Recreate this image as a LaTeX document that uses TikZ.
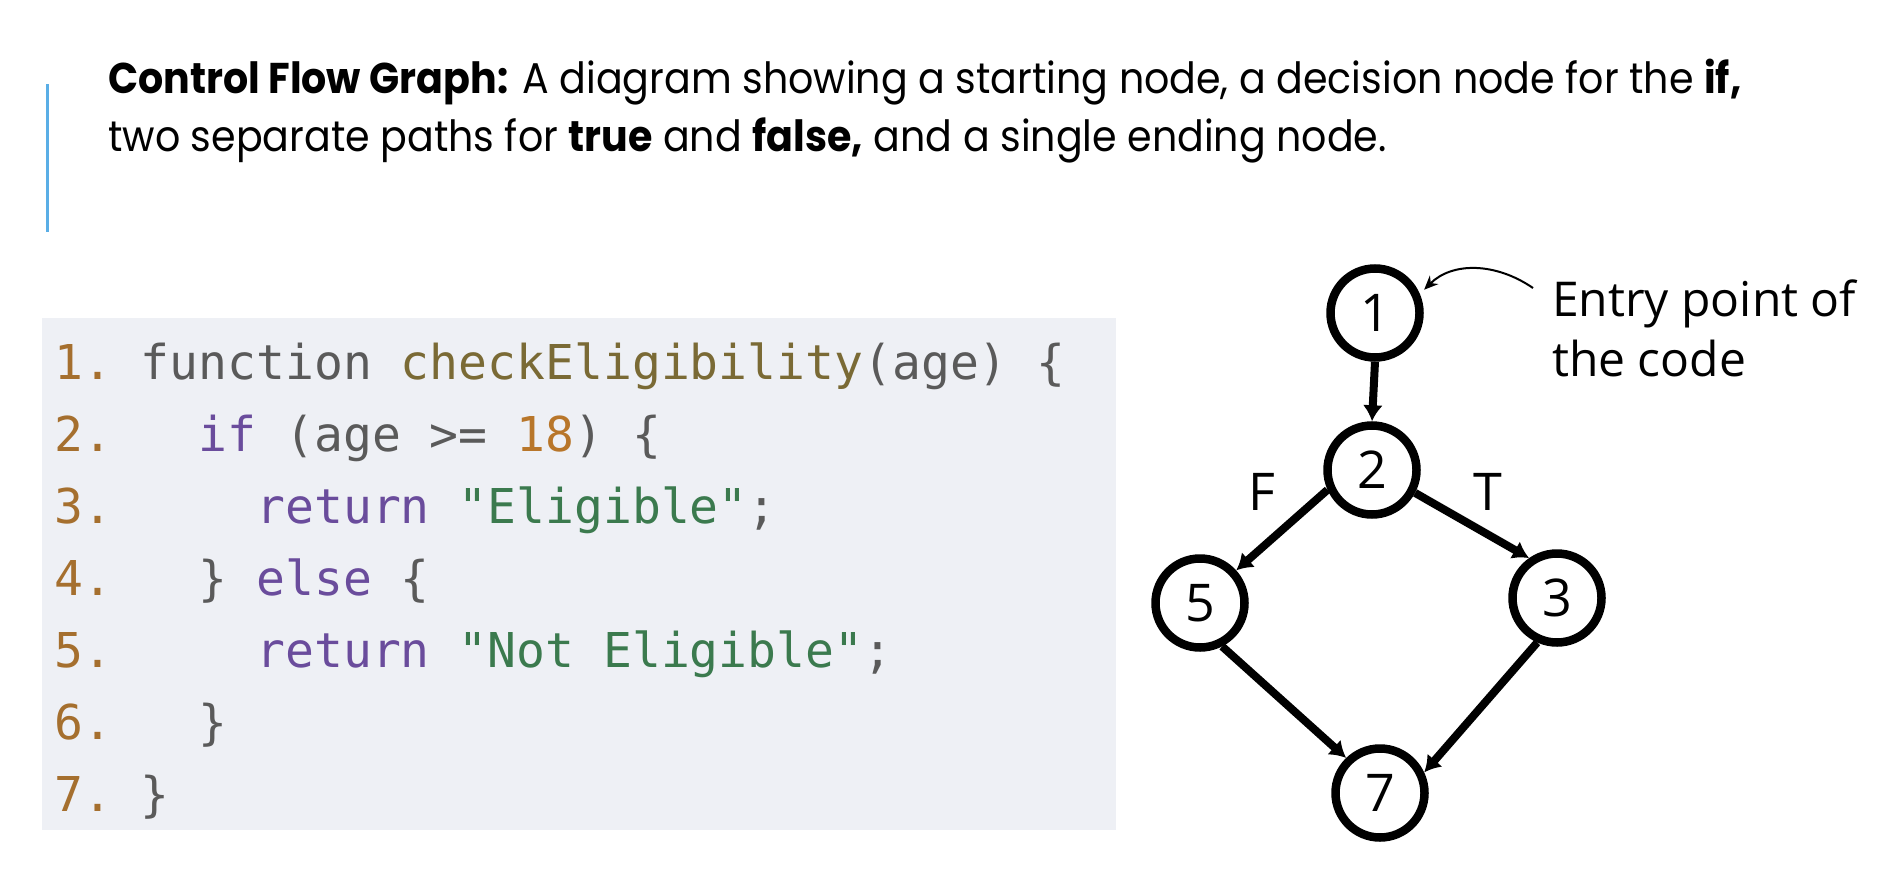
\documentclass[tikz,border=0pt]{standalone}
\usepackage{fontspec}
\setmainfont{Poppins}[FakeStretch=0.92]
\setmonofont{DejaVu Sans Mono}
\newfontfamily\gfont{Open Sans}
\usetikzlibrary{arrows.meta}
\definecolor{barblue}{HTML}{5AAEE6}
\definecolor{codebg}{HTML}{EEF0F5}
\definecolor{lnum}{HTML}{A56F2E}
\definecolor{plain}{HTML}{5A5A5A}
\definecolor{fn}{HTML}{7A6A35}
\definecolor{kw}{HTML}{6A4C9C}
\definecolor{numc}{HTML}{B8762A}
\definecolor{strc}{HTML}{3B7A4E}
\tikzset{
  header/.style={anchor=base west, inner sep=0pt, font=\fontsize{43}{50}\selectfont, text=black},
  codeline/.style={anchor=base west, inner sep=0pt, font=\ttfamily\fontsize{48}{56}\selectfont, text=plain},
  cfgnode/.style={circle, draw=black, line width=8.5pt, minimum size=89pt, inner sep=0pt, font=\gfont\fontsize{52}{56}\selectfont},
  edge/.style={line width=8pt, -{Latex[length=16pt,width=20pt]}},
  branchlabel/.style={inner sep=0pt, font=\gfont\fontsize{52}{56}\selectfont},
  note/.style={anchor=base west, inner sep=0pt, font=\gfont\fontsize{48}{55}\selectfont},
  pointer/.style={line width=2pt, -{Stealth[length=14pt,width=12pt]}}
}
\begin{document}
\begin{tikzpicture}[x=1pt,y=-1pt]
\useasboundingbox[fill=white] (0,0) rectangle (1884,888);
% header
\fill[barblue] (46,84) rectangle (49,232);
\node[header] (h1) at (108,94) {\textbf{Control Flow Graph:} A diagram showing a starting node, a decision node for the \textbf{if,}};
\node[header] (h2) at (108,152) {two separate paths for \textbf{true} and \textbf{false,} and a single ending node.};
% code block
\fill[codebg] (42,318) rectangle (1116,830);
\node[codeline] (c1) at (54,379) {\textcolor{lnum}{1.} function \textcolor{fn}{checkEligibility}(age) \{};
\node[codeline] (c2) at (54,451) {\textcolor{lnum}{2.}\ \ \ \textcolor{kw}{if} (age >= \textcolor{numc}{18}) \{};
\node[codeline] (c3) at (54,523) {\textcolor{lnum}{3.}\ \ \ \ \ \textcolor{kw}{return} \textcolor{strc}{"Eligible"};};
\node[codeline] (c4) at (54,595) {\textcolor{lnum}{4.}\ \ \ \} \textcolor{kw}{else} \{};
\node[codeline] (c5) at (54,667) {\textcolor{lnum}{5.}\ \ \ \ \ \textcolor{kw}{return} \textcolor{strc}{"Not Eligible"};};
\node[codeline] (c6) at (54,739) {\textcolor{lnum}{6.}\ \ \ \}};
\node[codeline] (c7) at (54,811) {\textcolor{lnum}{7.} \}};
% graph
\node[cfgnode] (n1) at (1375,313) {1};
\node[cfgnode] (n2) at (1372,470) {2};
\node[cfgnode] (n5) at (1200,603) {5};
\node[cfgnode] (n3) at (1557,598) {3};
\node[cfgnode] (n7) at (1380,793) {7};
\draw[edge] (n1.south) -- (n2.north);
\draw[edge] (n2.204) -- (n5.42);
\draw[edge] (n2.-28) -- (n3.125);
\draw[edge] (n5.-63) -- (n7.134);
\draw[edge] (n3.-114) -- (n7.25);
\node[branchlabel] (lf) at (1262,492) {F};
\node[branchlabel] (lt) at (1488,492) {T};
\node[note] (entry1) at (1552,316) {Entry point of};
\node[note] (entry2) at (1552,376) {the code};
\coordinate (ptr) at (1533,288);
\draw[pointer, shorten >=6pt] (ptr) .. controls (1495,262) and (1452,262) .. (n1.23);
\end{tikzpicture}
\end{document}
